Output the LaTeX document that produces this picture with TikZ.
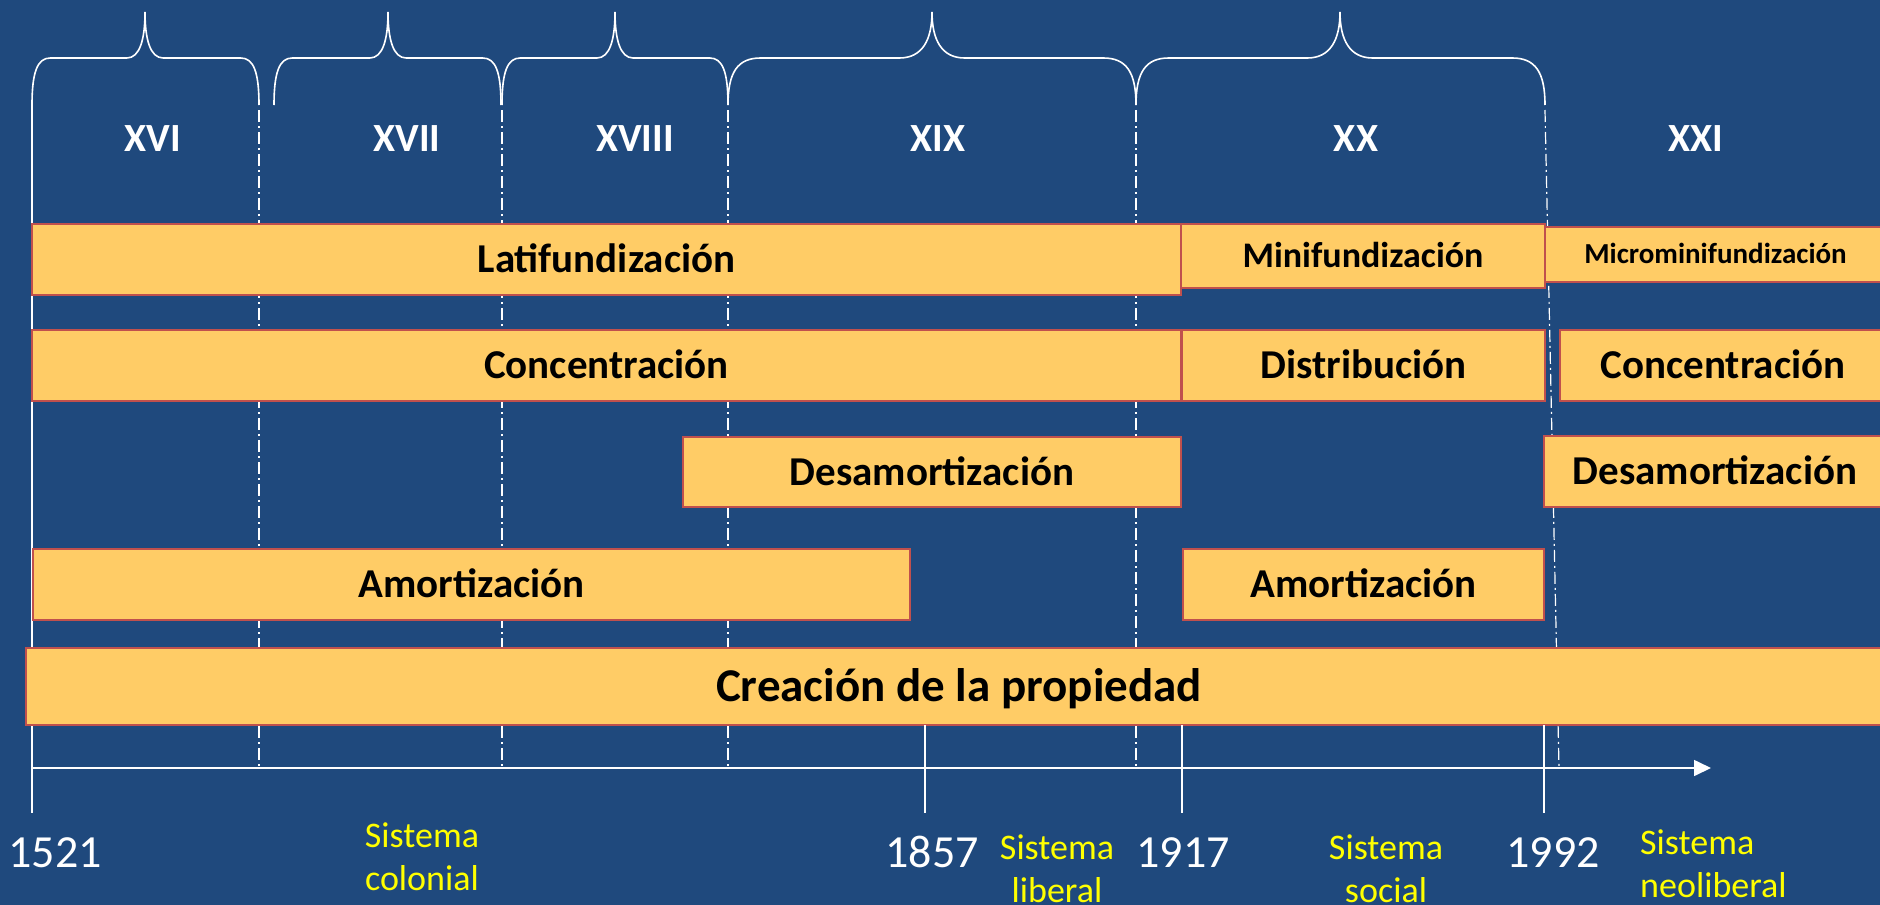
\documentclass[tikz,border=0pt]{standalone}
\usepackage{fontspec}
\setmainfont{Carlito}
\usetikzlibrary{arrows.meta}
\definecolor{fondo}{RGB}{31,73,125}
\definecolor{barra}{RGB}{255,204,102}
\definecolor{borde}{RGB}{192,80,77}
\definecolor{amarillo}{RGB}{255,255,0}
\tikzset{>=latex,
  etapa/.style={draw=borde, fill=barra, line width=1.5pt, inner sep=0pt,
    text height={0.644*#1}, text depth=0pt, font=\bfseries\fontsize{#1}{#1}\selectfont},
  etapa/.default=41,
  siglo/.style={text=white, inner sep=0pt, text height=25.8, text depth=0pt,
    font=\bfseries\fontsize{40}{40}\selectfont},
  anio/.style={text=white, inner sep=0pt, text height=29, text depth=0pt,
    font=\fontsize{46}{46}\selectfont},
  sistema/.style={text=amarillo, inner sep=0pt, anchor=north, align=center,
    font=\fontsize{36}{43}\selectfont},
  llave/.style={white, line width=1.6pt},
  limite/.style={white, line width=1.2pt, dash pattern=on 12pt off 4pt on 2pt off 4pt},
  linea/.style={white, line width=1.2pt}
}
\begin{document}
\begin{tikzpicture}[x=1pt,y=-1pt]
\useasboundingbox (0,0) rectangle (1880,905);
\clip (0,0) rectangle (1880,905);
\fill[fondo] (0,0) rectangle (1880,905);

\foreach \a/\m/\b in {32/145/259, 274/388/501, 502/615/728, 728/932/1136, 1136/1340/1545}{
  \pgfmathsetmacro{\esq}{0.08*(\b-\a)}
  \draw[llave] (\a,105) .. controls (\a,72) and (\a+0.3*\esq,58) .. (\a+\esq,58)
    -- (\m-\esq,58) .. controls (\m-0.3*\esq,58) and (\m,40) .. (\m,12)
    .. controls (\m,40) and (\m+0.3*\esq,58) .. (\m+\esq,58)
    -- (\b-\esq,58) .. controls (\b-0.3*\esq,58) and (\b,72) .. (\b,105);
}

\foreach \x in {259,502,728,1136}
  \draw[limite] (\x,110) -- (\x,768);
\draw[limite] (1545,110) -- (1559,768);
\draw[linea] (32,103) -- (32,813);

\node[siglo] (s16) at (153,139) {XVI};
\node[siglo] (s17) at (407,139) {XVII};
\node[siglo] (s18) at (635,139) {XVIII};
\node[siglo] (s19) at (938,139) {XIX};
\node[siglo] (s20) at (1356,139) {XX};
\node[siglo] (s21) at (1696,139) {XXI};

\node[etapa, minimum width=1149pt, minimum height=71pt] (lati) at (606.5,259.5) {Latifundización};
\node[etapa=36, minimum width=364pt, minimum height=64pt] (mini) at (1363,256) {Minifundización};
\node[etapa=29, minimum width=341pt, minimum height=55pt] (micro) at (1715.5,254.5) {Microminifundización};

\node[etapa, minimum width=1149pt, minimum height=71pt] (conc1) at (606.5,365.5) {Concentración};
\node[etapa, minimum width=363pt, minimum height=71pt] (dist) at (1363.5,365.5) {Distribución};
\node[etapa, minimum width=326pt, minimum height=71pt] (conc2) at (1723,365.5) {Concentración};

\node[etapa, minimum width=498pt, minimum height=70pt] (desa1) at (932,472) {Desamortización};
\node[etapa, minimum width=342pt, minimum height=71pt] (desa2) at (1715,471.5) {Desamortización};

\node[etapa, minimum width=877pt, minimum height=71pt] (amor1) at (471.5,584.5) {Amortización};
\node[etapa, minimum width=361pt, minimum height=71pt] (amor2) at (1363.5,584.5) {Amortización};

\node[etapa=47, minimum width=1866pt, minimum height=77pt] (crea) at (959,686.5) {Creación de la propiedad};

\foreach \x in {925,1182,1544}
  \draw[linea] (\x,725) -- (\x,813);
\coordinate (eje0) at (32,768);
\coordinate (eje1) at (1711,768);
\draw[white, line width=1.6pt, -{Triangle[length=17pt,width=16pt]}] (eje0) -- (eje1);

\node[anio] (a1521) at (55,853) {1521};
\node[anio] (a1857) at (932,853) {1857};
\node[anio] (a1917) at (1183,853) {1917};
\node[anio] (a1992) at (1553,853) {1992};

\node[sistema] (colonial) at (422,823) {Sistema\\colonial};
\node[sistema] (liberal) at (1057,835) {Sistema\\liberal};
\node[sistema] (social) at (1386,835) {Sistema\\social};
\node[sistema, anchor=north west, align=left] (neolib) at (1640,830) {Sistema\\neoliberal};
\end{tikzpicture}
\end{document}
